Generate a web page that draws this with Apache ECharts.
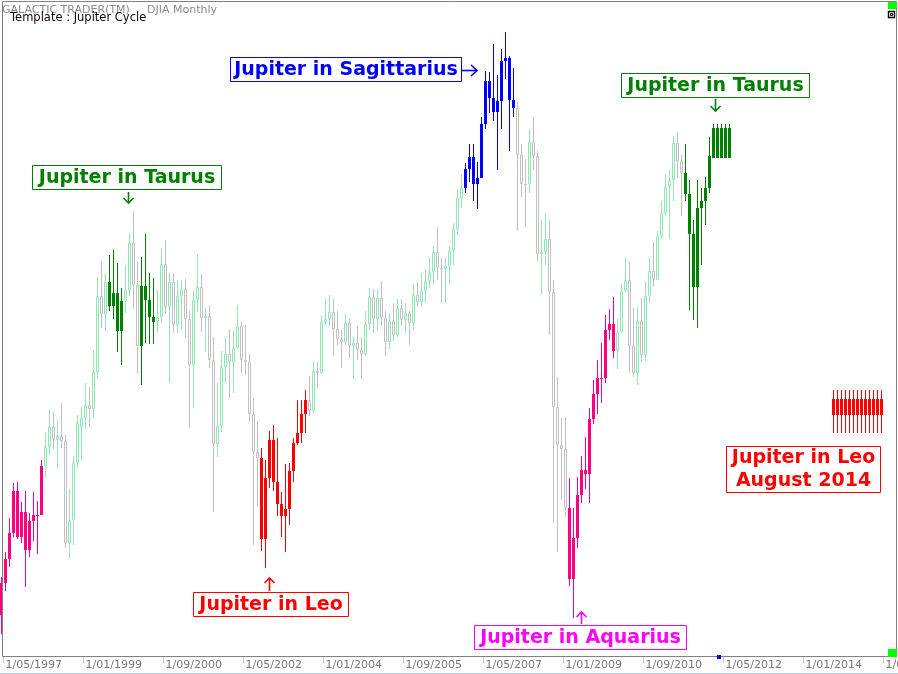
<!DOCTYPE html>
<html><head><meta charset="utf-8">
<script src="https://cdn.jsdelivr.net/npm/echarts@6/dist/echarts.min.js"></script>
<style>html,body{margin:0;padding:0;background:#fff;overflow:hidden}#c{width:898px;height:674px}</style>
</head><body><div id="c"></div>
<script>
// ---- data (DJIA monthly, first month Apr 1997) ----
const firstYear = 1997, firstMonth = 4, monthCount = 224;
const open = [6583,7009,7331,7673,8223,7622,7945,7442,7823,7908,7907,8546,8800,9063,8900,8952,8883,7539,7843,8592,9060,9181,9359,9307,9786,10789,10560,10971,10655,10829,10337,10729,10878,11497,10941,10128,10922,10734,10522,10448,10522,11215,10651,10971,10415,10787,10887,10495,9879,10735,10912,10502,10523,9950,8848,9075,9852,10022,9920,10106,10404,9946,9925,9243,8737,8664,7592,8397,8896,8342,8054,7891,7992,8480,8850,8985,9234,9416,9275,9801,9782,10454,10488,10584,10358,10226,10188,10435,10140,10174,10080,10027,10428,10783,10490,10766,10504,10193,10467,10275,10641,10482,10569,10440,10806,10718,10865,10993,11109,11367,11168,11150,11186,11381,11679,12081,12222,12463,12622,12269,12354,13063,13628,13409,13212,13358,13896,13930,13372,13265,12650,12266,12263,12820,12638,11350,11378,11544,10851,9325,8829,8776,8001,7063,7609,8168,8500,8447,9172,9496,9712,9713,10345,10428,10067,10325,10857,11009,10137,9774,10466,10015,10788,11118,11006,11578,11892,12226,12320,12811,12570,12414,12143,11614,10913,11955,12046,12218];
const high = [7088,7419,7871,8328,8342,8077,8222,7928,8211,8086,8625,9002,9291,9269,9154,9380,8966,8252,8680,9230,9330,9650,9600,10080,11050,11254,11083,11334,11400,11228,10895,11202,11627,11910,11237,11311,11610,11092,11026,10872,11422,11531,11100,11100,11000,11000,11020,10600,10860,11350,11080,10640,10675,10257,9643,10068,10236,10358,10332,10673,10454,10411,10029,9445,9150,8786,8632,9014,9093,8918,8206,8579,8588,8926,9422,9422,9554,9739,9927,9927,10530,10750,10800,10750,10600,10350,10550,10500,10250,10400,10250,10600,10900,10880,10880,10990,10600,10550,10700,10750,10750,10700,10600,10950,10980,11100,11150,11300,11450,11700,11300,11300,11450,11750,12200,12400,12550,12800,12800,12563,13150,13760,13750,14121,13700,14050,14273,13950,13800,13350,12800,12600,13000,13150,12700,11800,11870,11800,11000,9730,9181,9202,8400,7995,8412,8684,8931,9317,9686,9950,10170,10543,10618,10784,10490,10950,11300,11250,10631,10652,10763,10982,11290,11509,11650,12050,12400,12450,12900,12950,12650,12797,12322,11800,12322,12213,12358,12893];
const low = [6333,6904,7226,7620,7588,7539,6954,7350,7569,7397,7907,8409,8702,8781,8526,8791,7470,7341,7508,8526,8628,9040,9060,9185,9716,10375,10336,10599,10494,10059,9888,10569,10793,10618,9774,9620,10170,10161,10161,10309,10450,10550,9650,10300,10300,10345,10236,9057,9321,10580,10323,10059,9840,7950,8675,9005,9664,9453,9519,10091,9782,9752,9137,7511,8008,7436,7204,8259,8227,7898,7621,7423,7780,8346,8829,8860,8984,9216,9250,9577,9760,10411,10400,10000,10150,9850,10150,9980,9700,9950,9700,10000,10350,10300,10350,10400,10000,10100,10200,10250,10400,10300,10150,10350,10650,10650,10700,10900,10950,11000,10700,10700,10950,11200,11600,11950,12150,12300,12050,11936,12350,13000,13200,13100,12454,13000,13650,12700,13150,11650,12100,11700,12150,12450,11250,10820,11200,10279,7797,7423,8104,7884,6975,6545,7476,8069,8249,8069,9106,9234,9387,9650,10213,9976,9827,10300,10850,9774,9730,9620,9927,9940,10697,10916,11000,11550,11850,11550,12050,12350,11850,12050,10609,10477,10368,11202,11729,12150];
const close = [7009,7331,7673,8223,7622,7945,7442,7823,7908,7907,8546,8800,9063,8900,8952,8883,7539,7843,8592,9117,9181,9359,9307,9786,10789,10560,10971,10655,10829,10337,10729,10878,11497,10941,10128,10922,10734,10522,10448,10522,11215,10651,10971,10415,10787,10887,10495,9879,10735,10912,10502,10523,9950,8848,9075,9852,10022,9920,10106,10404,9946,9925,9243,8737,8664,7592,8397,8896,8342,8054,7891,7992,8480,8850,8985,9234,9416,9275,9801,9782,10454,10488,10584,10358,10226,10188,10435,10140,10174,10080,10027,10428,10783,10490,10766,10504,10193,10467,10275,10641,10482,10569,10440,10806,10718,10865,10993,11109,11367,11168,11150,11186,11381,11679,12081,12222,12463,12622,12269,12354,13063,13628,13409,13212,13358,13896,13930,13372,13265,12650,12266,12263,12820,12638,11350,11378,11544,10851,9325,8829,8776,8001,7063,7609,8168,8500,8447,9172,9496,9712,9713,10345,10428,10067,10325,10857,11009,10137,9774,10466,10015,10788,11118,11006,11578,11892,12226,12320,12811,12570,12414,12143,11614,10913,11955,12046,12218,12633];
// month index ranges [from, to] for each Jupiter sign
const aquariusRanges = [[0,10],[142,153]];
const taurusRanges = [[27,30],[35,38],[171,177]];
const leoRanges = [[65,76]];
const sagittariusRanges = [[116,128]];
// projected (template) bars: [open, high, low, close]
const taurusProjection = {from:178, to:182, ohlc:[12616,13060,12616,13007]};
const leoProjection = {from:208, to:220, ohlc:[9229,9554,8988,9436]};
const labelFirstIndex = 1, labelStep = 20;

// ---- build ----
const categories = [];
for (let i = 0; i < monthCount; i++) {
  const m0 = firstMonth - 1 + i;
  const y = firstYear + Math.floor(m0 / 12), m = (m0 % 12) + 1;
  categories.push('1/' + (m < 10 ? '0' + m : m) + '/' + y);
}
function inRanges(i, ranges){ return ranges.some(r => i >= r[0] && i <= r[1]); }
function bar(i){ return [i, open[i], close[i], low[i], high[i]]; }
function signData(ranges, proj){
  const d = [];
  for (let i = 0; i < close.length; i++) if (inRanges(i, ranges)) d.push(bar(i));
  if (proj) for (let i = proj.from; i <= proj.to; i++) d.push([i, proj.ohlc[0], proj.ohlc[3], proj.ohlc[2], proj.ohlc[1]]);
  return d;
}
const allRanges = [].concat(aquariusRanges, taurusRanges, leoRanges, sagittariusRanges);
const plainUp = [], plainDown = [];
for (let i = 0; i < close.length; i++) {
  if (inRanges(i, allRanges)) continue;
  (close[i] > open[i] ? plainUp : plainDown).push(bar(i));
}

function candleRender(color, hollow){
  return function(params, api){
    const i = api.value(0), o = api.value(1), c = api.value(2), l = api.value(3), h = api.value(4);
    const pO = api.coord([i, o]), pC = api.coord([i, c]), pL = api.coord([i, l]), pH = api.coord([i, h]);
    const cx = Math.floor(pO[0]) + 0.5;
    const yTop = Math.round(Math.min(pO[1], pC[1])), yBot = Math.round(Math.max(pO[1], pC[1]));
    const yH = Math.round(pH[1]), yL = Math.round(pL[1]);
    const ch = [];
    if (hollow) {
      ch.push({type:'line', shape:{x1:cx, y1:yH, x2:cx, y2:yTop}, style:{stroke:color, lineWidth:1}});
      ch.push({type:'line', shape:{x1:cx, y1:yBot, x2:cx, y2:yL}, style:{stroke:color, lineWidth:1}});
      ch.push({type:'rect', shape:{x:cx - 1, y:yTop + 0.5, width:2, height:Math.max(yBot - yTop - 1, 0)}, style:{fill:'#fff', stroke:color, lineWidth:1}});
    } else {
      ch.push({type:'line', shape:{x1:cx, y1:yH, x2:cx, y2:yL}, style:{stroke:color, lineWidth:1}});
      ch.push({type:'rect', shape:{x:cx - 1.5, y:yTop, width:3, height:Math.max(yBot - yTop, 1)}, style:{fill:color}});
    }
    return {type:'group', children:ch};
  };
}
function candleSeries(name, data, color, hollow){
  return {type:'custom', name:name, data:data, silent:true, animation:false, clip:false,
    encode:{x:0, y:[1,2,3,4]}, renderItem:candleRender(color, hollow)};
}
const labelInterval = (i) => i >= labelFirstIndex && (i - labelFirstIndex) % labelStep === 0;

const F = 'DejaVu Sans';
function box(x, y, w, h, color, lines, fs){
  const els = [{type:'rect', shape:{x:x, y:y, width:w, height:h}, style:{fill:'#fff', stroke:color, lineWidth:1}, z:10}];
  const lh = h / lines.length;
  lines.forEach((t, k) => els.push({type:'text', x:x + w/2, y:y + lh*k + lh/2 + 0.5, style:{text:t, fill:color, font:'bold ' + fs + 'px "' + F + '"', align:'center', verticalAlign:'middle'}, z:11}));
  return els;
}
function arrow(points, head, color){
  return [{type:'polyline', shape:{points:points}, style:{stroke:color, lineWidth:1.6, fill:null}, z:10},
          {type:'polyline', shape:{points:head}, style:{stroke:color, lineWidth:1.6, fill:null}, z:10}];
}
const graphics = [].concat(
  [{type:'rect', shape:{x:2.5, y:1.5, width:894, height:655}, style:{fill:null, stroke:'#808080', lineWidth:1}, z:20},
   {type:'line', shape:{x1:0, y1:673.5, x2:898, y2:673.5}, style:{stroke:'#b4cfe8', lineWidth:1}, z:20},
   {type:'text', x:2, y:5, style:{text:'GALACTIC TRADER(TM)', fill:'#8a8a94', font:'11px "' + F + '"'}, z:12},
   {type:'text', x:147, y:5, style:{text:'DJIA Monthly', fill:'#8a8a94', font:'11px "' + F + '"'}, z:12},
   {type:'text', x:10, y:12, style:{text:'Template : Jupiter Cycle', fill:'#100010', font:'11.5px "' + F + '"'}, z:13},
   {type:'rect', shape:{x:888, y:2, width:9, height:7}, style:{fill:'#00ff00'}, z:21},
   {type:'rect', shape:{x:888.5, y:11.5, width:6, height:6}, style:{fill:'#fff', stroke:'#000', lineWidth:1.4}, z:21},
   {type:'rect', shape:{x:890.5, y:13.5, width:2, height:2}, style:{fill:'#fff', stroke:'#000', lineWidth:1}, z:21},
   {type:'rect', shape:{x:888, y:649, width:9, height:8}, style:{fill:'#00ff00'}, z:21},
   {type:'rect', shape:{x:717, y:655, width:4, height:4}, style:{fill:'#0000ff'}, z:21}],
  box(32.5, 165.5, 189, 24, '#008000', ['Jupiter in Taurus'], 19),
  arrow([[128.5,192],[128.5,203]], [[123.5,198],[128.5,203],[133.5,198]], '#008000'),
  box(230.5, 57.5, 231, 24, '#0000ff', ['Jupiter in Sagittarius'], 19),
  arrow([[462,70.5],[477,70.5]], [[471,65],[477,70.5],[471,76]], '#0000ff'),
  box(621.5, 73.5, 188, 24, '#008000', ['Jupiter in Taurus'], 19),
  arrow([[715.5,99],[715.5,111]], [[710.5,106],[715.5,111],[720.5,106]], '#008000'),
  box(193.5, 592.5, 155, 24, '#ff0000', ['Jupiter in Leo'], 19),
  arrow([[269.5,591],[269.5,578]], [[264.5,583],[269.5,578],[274.5,583]], '#ff0000'),
  box(474.5, 625.5, 212, 24, '#ff00ff', ['Jupiter in Aquarius'], 19),
  arrow([[581.5,624],[581.5,612]], [[576.5,617],[581.5,612],[586.5,617]], '#ff00ff'),
  box(726.5, 446.5, 154, 46, '#ff0000', ['Jupiter in Leo', 'August 2014'], 19)
);

const chart = echarts.init(document.getElementById('c'), null, {renderer:'canvas'});
chart.setOption({
  animation:false,
  backgroundColor:'#fff',
  grid:{left:-0.5, top:2, width:896, height:655, containLabel:false, outerBoundsMode:'none'},
  xAxis:{type:'category', data:categories, boundaryGap:true,
    axisLine:{show:false},
    axisTick:{show:true, interval:labelInterval, length:6, lineStyle:{color:'#c8c8c8'}},
    axisLabel:{interval:labelInterval, align:'left', color:'#777', fontFamily:F, fontSize:11, margin:3, hideOverlap:false},
    splitLine:{show:false}},
  yAxis:{type:'value', min:6035, max:14668, show:false, splitLine:{show:false}},
  series:[
    candleSeries('Rising month', plainUp, '#8ee8b6', true),
    candleSeries('Falling month', plainDown, '#c0c0c0', true),
    candleSeries('Jupiter in Aquarius', signData(aquariusRanges), '#ff0080', false),
    candleSeries('Jupiter in Taurus', signData(taurusRanges, taurusProjection), '#008000', false),
    candleSeries('Jupiter in Leo', signData(leoRanges, leoProjection), '#ff0000', false),
    candleSeries('Jupiter in Sagittarius', signData(sagittariusRanges), '#0000ff', false)
  ],
  graphic:graphics
});
</script></body></html>
